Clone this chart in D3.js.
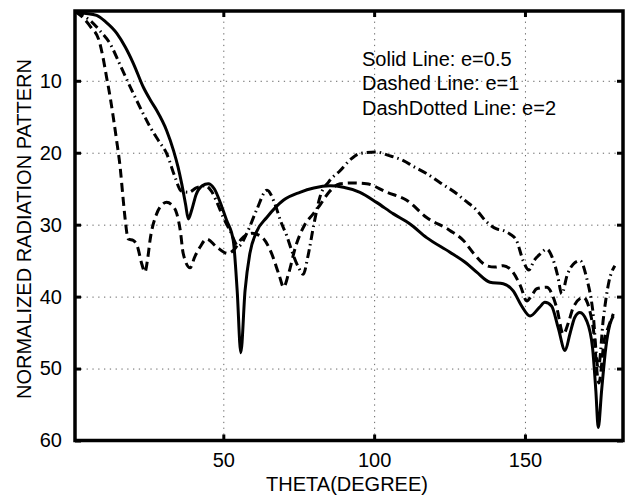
<!DOCTYPE html>
<html>
<head>
<meta charset="utf-8">
<script src="https://cdn.jsdelivr.net/npm/d3@7"></script>
<style>
  html, body { margin: 0; padding: 0; background: #fff; }
  svg { display: block; }
  text { font-family: "Liberation Sans", Arial, Helvetica, sans-serif; fill: #000; }
</style>
</head>
<body>
<svg id="chart" width="630" height="502"></svg>
<script>
// ---- data ----
const xTicks = [50, 100, 150];
const yTicks = [10, 20, 30, 40, 50, 60];
const legendLines = ["Solid Line: e=0.5", "Dashed Line: e=1", "DashDotted Line: e=2"];
const xLabel = "THETA(DEGREE)";
const yLabel = "NORMALIZED RADIATION PATTERN";

const solidTheta = [1,4,8,11,14.7,17.5,20.2,23.5,26,27.9,31.2,33.5,35,36.2,37.5,38.4,39.5,41,43,45,47,49.5,51.1,53.3,54.6,55.8,57.2,58.8,61,64.4,69.9,75.4,80,85.4,89.8,95.3,100.8,106.4,111.9,117.4,125,130.7,134,138.4,142.8,146.1,148.9,151.7,154.8,156.6,158.8,161,163.3,164.9,166.5,168.2,170.5,172.4,173.5,174.3,175.4,176.8,178.2,179.3];
const solidValues = [0.4,0.6,0.9,1.8,3.4,5.3,7.6,10.9,12.8,14.1,16.9,19.7,22,24.3,27.2,29.2,28,25.8,24.6,24.3,25,27.5,29.4,32.2,39.2,47.8,39.2,34,31,29,26.6,25.5,24.9,24.6,24.8,25.5,26.9,28.5,29.9,31.8,33.8,35.4,36.6,38,38.2,39.2,41.3,42.7,41.5,40.8,41.3,44.3,47.5,45.2,42.9,42.2,43.4,47.1,53.1,58.2,53.1,47.1,43.8,42.7];

const dashedTheta = [1,3.7,6,8.8,10,11.3,12.5,13.5,14.7,15.8,16.7,17.4,18.5,20.2,21.5,23,24,25,25.7,27.9,29.5,31.2,33,34.6,35.8,36.7,39,40.5,42.3,44.5,47.8,51.5,53.5,56,59.5,63,66,68.5,70,71.5,74,77,79.8,82,85,88.7,93,97.5,104.2,110.8,117.4,125.1,129.6,133,137.3,140,142.8,146,148.5,150.6,152.3,153.9,157.2,160.5,162.7,164.5,166,169.3,172.6,174.5,176.3,177.6,179.3];
const dashedValues = [0.4,1.3,2.5,4.4,6.5,9.5,12.3,15,18.5,22,26,29,32,32.2,33,35.5,36.6,34.5,32.2,28.5,27.3,26.9,27.3,28.5,31,34,36,34.5,33.1,32,33.1,34,33.5,32,31.2,31.8,34,37,38.7,37,33,30,28.5,27.3,25.5,24.3,24.2,24.3,25.5,26.6,29,30.8,32.2,34,35.7,35.9,35.7,36.6,38.5,40.6,39.8,38.9,38.7,41.5,45.2,43.5,41.5,40.1,44.3,52,46,44.3,42.4];

const dashDotTheta = [1,3,5.8,9,12.4,16,20.2,23,25.7,28.5,31.2,34,36,38.5,41,44,46,48,50,52.2,55,58,61,64.5,67,69,71,73,75,76.5,78,80,82,85,88.7,92,95.3,100.8,105,109.7,113,117.4,122,127.4,130,134,137,140.6,142.7,145,147.2,149.4,151.3,153,155,157.2,159,160.8,162.2,164,166,168.3,170.5,172.5,174.3,176,177.8,179.8];
const dashDotValues = [0.4,0.8,1.6,3,4.8,8,11.8,14.2,16.4,18.3,20.1,23.4,25.3,25.5,24.9,24.6,25.3,27,29,30.8,33,31,28,25.2,27,29.5,31.5,34,36,36.9,34.5,30,26.2,24,22.5,21,20.1,19.9,20.4,21.1,21.9,22.9,24.2,25.7,26.6,28,29.5,30.6,30.8,31.3,32.2,35,36.3,35,34.1,33.4,34.5,37,39.6,37,35.5,35,37.5,42,50,43,38,35.7];

// ---- layout ----
const L = 75, R = 623, T = 11, B = 440.5;
const svg = d3.select("#chart");

const x = d3.scaleLinear().domain([1, 182.5]).range([L + 0.5, R]);
const y = d3.scaleLinear().domain([0.3, 60]).range([T, B]);

function pairs(t, v) {
  const n = Math.min(t.length, v.length);
  return d3.range(n).map(i => [t[i], v[i]]);
}

// grid
const grid = svg.append("g").attr("class", "grid");
grid.append("g").attr("transform", `translate(0,${B})`)
  .call(d3.axisBottom(x).tickValues(xTicks).tickSize(-(B - T)).tickFormat(""))
  .call(g => g.select(".domain").remove());
grid.append("g").attr("transform", `translate(${L},0)`)
  .call(d3.axisLeft(y).tickValues(yTicks).tickSize(-(R - L)).tickFormat(""))
  .call(g => g.select(".domain").remove());
grid.selectAll("line").attr("stroke", "#666").attr("stroke-width", 1).attr("stroke-dasharray", "1.3,4.5");

// curves
const line = d3.line().x(d => x(d[0])).y(d => y(d[1])).curve(d3.curveMonotoneX);
const series = [
  {d: pairs(solidTheta, solidValues), dash: null},
  {d: pairs(dashedTheta, dashedValues), dash: "9,5"},
  {d: pairs(dashDotTheta, dashDotValues), dash: "9,4,1.5,4"}
];
svg.append("defs").append("clipPath").attr("id", "clip")
  .append("rect").attr("x", L).attr("y", T).attr("width", R - L).attr("height", B - T);
const plot = svg.append("g").attr("clip-path", "url(#clip)");
series.forEach(s => {
  plot.append("path").datum(s.d)
    .attr("d", line)
    .attr("fill", "none")
    .attr("stroke", "#000")
    .attr("stroke-width", 3)
    .attr("stroke-linejoin", "round")
    .attr("stroke-dasharray", s.dash);
});

// axes with inward ticks
const fontSize = "20px";
const axB = svg.append("g").attr("transform", `translate(0,${B})`)
  .call(d3.axisBottom(x).tickValues(xTicks).tickSizeInner(-6).tickSizeOuter(0).tickPadding(12));
const axL = svg.append("g").attr("transform", `translate(${L},0)`)
  .call(d3.axisLeft(y).tickValues(yTicks).tickSizeInner(-6).tickSizeOuter(0).tickPadding(13));
const axT = svg.append("g").attr("transform", `translate(0,${T})`)
  .call(d3.axisTop(x).tickValues(xTicks).tickSizeInner(-6).tickSizeOuter(0).tickFormat(""));
const axR = svg.append("g").attr("transform", `translate(${R},0)`)
  .call(d3.axisRight(y).tickValues(yTicks).tickSizeInner(-6).tickSizeOuter(0).tickFormat(""));
[axB, axL, axT, axR].forEach(a => {
  a.select(".domain").remove();
  a.selectAll(".tick line").attr("stroke", "#000").attr("stroke-width", 3);
  a.selectAll("text").style("font-size", fontSize)
    .style("font-family", '"Liberation Sans", Arial, Helvetica, sans-serif').attr("fill", "#000");
});

// frame
svg.append("rect").attr("x", L).attr("y", T).attr("width", R - L).attr("height", B - T)
  .attr("fill", "none").attr("stroke", "#000").attr("stroke-width", 3.5);

// labels
svg.append("text").attr("x", 347).attr("y", 491).attr("text-anchor", "middle")
  .style("font-size", fontSize).text(xLabel);
svg.append("text").attr("transform", "translate(31,229) rotate(-90)").attr("text-anchor", "middle")
  .style("font-size", fontSize).text(yLabel);

// legend text
svg.append("g").selectAll("text").data(legendLines).join("text")
  .attr("x", 362).attr("y", (d, i) => 65.7 + i * 24.7)
  .style("font-size", fontSize).text(d => d);
</script>
</body>
</html>
